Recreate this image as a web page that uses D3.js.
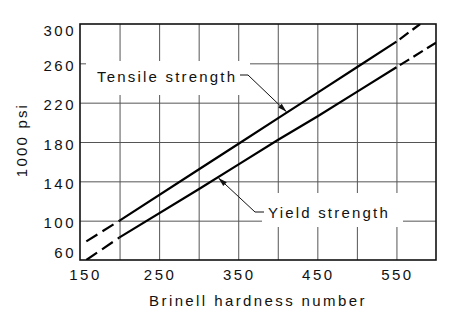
<!DOCTYPE html>
<html>
<head>
<meta charset="utf-8">
<script src="https://cdn.jsdelivr.net/npm/d3@7"></script>
<style>
  body { margin: 0; background: #fff; }
  svg { display: block; }
  text { font-family: "Liberation Sans", Arial, sans-serif; fill: #111; }
</style>
</head>
<body>
<svg id="chart" width="450" height="314"></svg>
<script>
// Brinell hardness vs strength (1000 psi)
const tensileSolid = [[200, 100], [300, 152], [350, 178], [400, 204], [450, 230], [500, 256], [550, 282]]
const tensileLow = [[158, 79], [200, 100]]
const tensileHigh = [[550, 282], [580, 300]]
const yieldSolid = [[200, 83], [300, 132], [350, 157], [400, 182], [450, 206], [500, 231], [550, 256]]
const yieldLow = [[158, 60], [200, 83]]
const yieldHigh = [[550, 256], [600, 281]]

const xTicks = [150, 250, 350, 450, 550]
const yTicks = [60, 100, 140, 180, 220, 260, 300]

const svg = d3.select("#chart")
const mLeft = 80, mRight = 436, mTop = 24, mBottom = 260

const x = d3.scaleLinear().domain([150, 600]).range([mLeft, mRight])
const y = d3.scaleLinear().domain([60, 300]).range([mBottom, mTop])

// grid
svg.append("g")
  .attr("transform", `translate(0,${mBottom})`)
  .call(d3.axisBottom(x).tickValues(d3.range(200, 600, 50)).tickSize(-(mBottom - mTop)).tickFormat(""))
  .call(g => g.select(".domain").remove())
  .selectAll("line").attr("stroke", "#555").attr("stroke-width", 1)
svg.append("g")
  .attr("transform", `translate(${mLeft},0)`)
  .call(d3.axisLeft(y).tickValues(d3.range(100, 300, 40)).tickSize(-(mRight - mLeft)).tickFormat(""))
  .call(g => g.select(".domain").remove())
  .selectAll("line").attr("stroke", "#555").attr("stroke-width", 1)

// white boxes behind the labels
svg.append("rect").attr("x", 86).attr("y", 61).attr("width", 164).attr("height", 34).attr("fill", "#fff")
svg.append("rect").attr("x", 262).attr("y", 193).attr("width", 141).attr("height", 34).attr("fill", "#fff")

// frame
svg.append("rect")
  .attr("x", mLeft).attr("y", mTop).attr("width", mRight - mLeft).attr("height", mBottom - mTop)
  .attr("fill", "none").attr("stroke", "#111").attr("stroke-width", 1.6)

// tick labels
svg.append("g").selectAll("text")
  .data(yTicks)
  .join("text")
  .attr("x", 76)
  .attr("y", d => y(d) + (d === 300 ? 6.5 : d === 60 ? -7.5 : 2.5))
  .attr("dy", "0.35em")
  .attr("text-anchor", "end")
  .style("font-size", "15px")
  .style("letter-spacing", "2.5px")
  .text(d => d)

svg.append("g").selectAll("text")
  .data(xTicks)
  .join("text")
  .attr("x", d => x(d) + (d === 150 ? 5.5 : 1))
  .attr("y", 280)
  .attr("text-anchor", "middle")
  .style("font-size", "15px")
  .style("letter-spacing", "2.5px")
  .text(d => d)

// axis titles
svg.append("text")
  .attr("x", 258).attr("y", 306)
  .attr("text-anchor", "middle")
  .style("font-size", "15px")
  .style("letter-spacing", "2.4px")
  .text("Brinell hardness number")

svg.append("text")
  .attr("transform", "translate(27,140) rotate(-90)")
  .attr("text-anchor", "middle")
  .style("font-size", "15px")
  .style("letter-spacing", "2.2px")
  .text("1000 psi")

// curves
const line = d3.line().x(d => x(d[0])).y(d => y(d[1]))
svg.append("defs").append("clipPath").attr("id", "plot")
  .append("rect").attr("x", mLeft).attr("y", mTop).attr("width", mRight - mLeft).attr("height", mBottom - mTop)
const curves = svg.append("g").attr("clip-path", "url(#plot)")
;[tensileSolid, yieldSolid].forEach(d => {
  curves.append("path").attr("d", line(d)).attr("fill", "none").attr("stroke", "#000").attr("stroke-width", 2.2)
})
;[tensileLow, yieldLow].forEach(d => {
  curves.append("path").attr("d", line(d)).attr("fill", "none").attr("stroke", "#000")
    .attr("stroke-width", 2.2).attr("stroke-dasharray", "13,6")
})
;[tensileHigh, yieldHigh].forEach(d => {
  curves.append("path").attr("d", line(d)).attr("fill", "none").attr("stroke", "#000")
    .attr("stroke-width", 2.2).attr("stroke-dasharray", "0,4,11,5,11,5,11,5")
})

// annotations with leaders
function leader(pts) {
  svg.append("path").attr("d", d3.line()(pts)).attr("fill", "none").attr("stroke", "#111").attr("stroke-width", 1)
  const [x1, y1] = pts[pts.length - 2], [x2, y2] = pts[pts.length - 1]
  const a = Math.atan2(y2 - y1, x2 - x1), L = 9, W = 2.6
  const bx = x2 - L * Math.cos(a), by = y2 - L * Math.sin(a)
  svg.append("path")
    .attr("d", `M${x2},${y2}L${bx - W * Math.sin(a)},${by + W * Math.cos(a)}L${bx + W * Math.sin(a)},${by - W * Math.cos(a)}Z`)
    .attr("fill", "#111")
}

const tx = 411, yx = 325
const interp = (data, v) => {
  const i = d3.bisector(d => d[0]).right(data, v) - 1
  const [a, b] = [data[i], data[i + 1]]
  return a[1] + (b[1] - a[1]) * (v - a[0]) / (b[0] - a[0])
}

svg.append("text").attr("x", 97).attr("y", 82)
  .style("font-size", "15px").style("letter-spacing", "2.2px")
  .text("Tensile strength")
leader([[240, 75], [248, 75], [x(tx), y(interp(tensileSolid, tx)) - 1]])

svg.append("text").attr("x", 268).attr("y", 218)
  .style("font-size", "15px").style("letter-spacing", "2.2px")
  .text("Yield strength")
leader([[264, 212], [255, 212], [x(yx), y(interp(yieldSolid, yx)) + 1]])
</script>
</body>
</html>
